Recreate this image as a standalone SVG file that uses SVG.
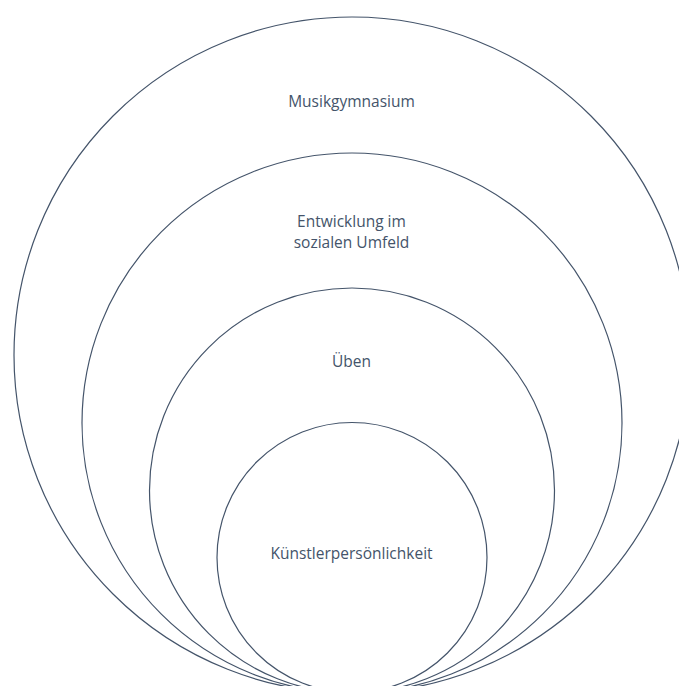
<svg xmlns="http://www.w3.org/2000/svg" width="679" height="686" viewBox="0 0 679 686">
<style>
.ring{fill:none;stroke:#44546A;stroke-width:1.2}
.lbl{font-family:"Open Sans","Noto Sans","Liberation Sans",sans-serif;font-size:15.5px;fill:#44546A;text-anchor:middle}
</style>
<rect width="679" height="686" fill="#ffffff"/>
<g id="connectors"></g>
<g id="node-musikgymnasium">
<circle class="ring" cx="352" cy="355" r="338"/>
<text class="lbl" x="351.5" y="107">Musikgymnasium</text>
</g>
<g id="node-entwicklung">
<circle class="ring" cx="352" cy="423" r="270"/>
<text class="lbl" x="351.5" y="226.5">Entwicklung im</text>
<text class="lbl" x="351.5" y="247.5">sozialen Umfeld</text>
</g>
<g id="node-ueben">
<circle class="ring" cx="352" cy="490.5" r="202.5"/>
<text class="lbl" x="351.5" y="367">Üben</text>
</g>
<g id="node-kuenstler">
<circle class="ring" cx="352" cy="557.5" r="135"/>
<text class="lbl" x="351.5" y="559">Künstlerpersönlichkeit</text>
</g>
</svg>
